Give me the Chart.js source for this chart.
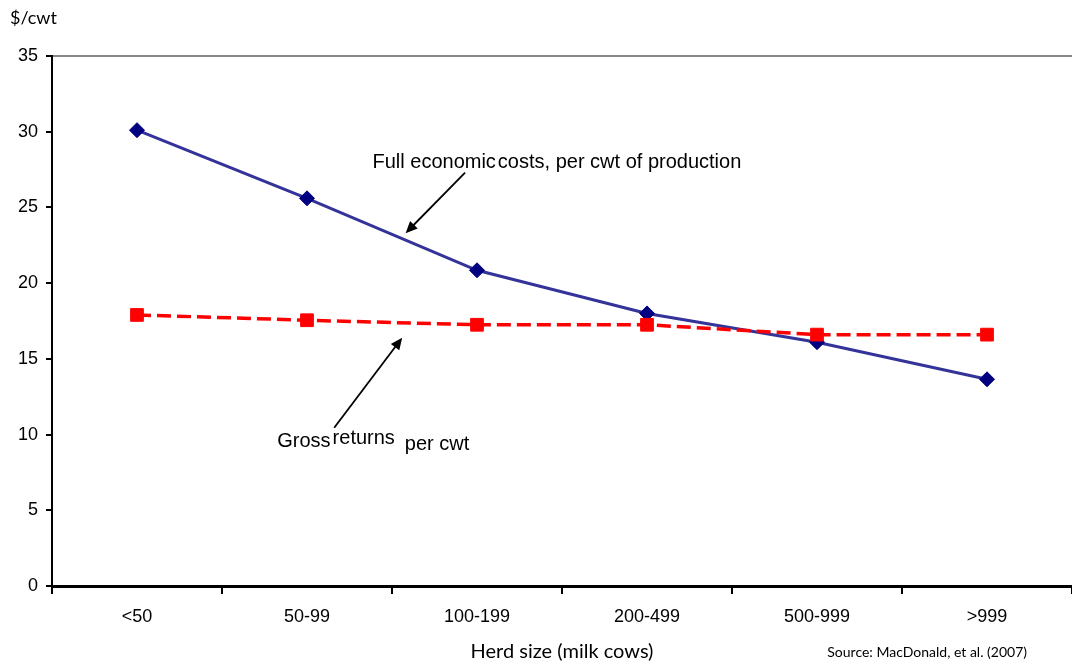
<!DOCTYPE html>
<html>
<head>
<meta charset="utf-8">
<script src="https://cdn.jsdelivr.net/npm/chart.js@4"></script>
<style>
  html, body { margin: 0; padding: 0; background: #fff; overflow: hidden; }
  #wrap { width: 1082px; height: 668px; position: relative; }
</style>
</head>
<body>
<div id="wrap"><canvas id="herdChart"></canvas></div>
<script>
// herd size classes and per-cwt values
const herdSizes = ['<50', '50-99', '100-199', '200-499', '500-999', '>999'];
const fullCosts = [30.1, 25.6, 20.85, 18.0, 16.1, 13.65];
const grossReturns = [17.9, 17.55, 17.25, 17.25, 16.6, 16.6];
const yTicks = [0, 5, 10, 15, 20, 25, 30, 35];

// annotation anchors in data units (category index, $/cwt)
const notes = [
  { parts: [['Full economic', 0, 0], ['costs, per cwt of production', 2, 0]], at: [2.47, 28.0],
    arrow: [[1.93, 27.3], [1.58, 23.3]] },
  { parts: [['Gross', 0, 0], ['returns', 2, -3], ['per cwt', 10, 3]], at: [1.39, 9.55],
    arrow: [[1.16, 10.45], [1.56, 16.4]] }
];

const sans = "'Liberation Sans', Arial, sans-serif";
const soft = "Lato, 'Open Sans', sans-serif";

const extras = {
  id: 'extras',
  afterDraw(chart) {
    const { ctx, scales: { x, y } } = chart;
    ctx.save();
    ctx.fillStyle = '#000';
    ctx.textBaseline = 'middle';

    // units label top left
    ctx.font = '18px ' + soft;
    ctx.textAlign = 'left';
    ctx.fillText('$/cwt', 10, 18);

    // source note
    ctx.font = '14px ' + soft;
    ctx.textAlign = 'right';
    ctx.fillText('Source: MacDonald, et al. (2007)', 1027, 652);

    // callouts
    ctx.font = '20px ' + sans;
    ctx.textAlign = 'left';
    notes.forEach(n => {
      const widths = n.parts.map(p => ctx.measureText(p[0]).width);
      const total = widths.reduce((a, b) => a + b, 0) + n.parts.reduce((a, p) => a + p[1], 0);
      let cx = x.getPixelForValue(n.at[0]) - total / 2;
      const cy = y.getPixelForValue(n.at[1]);
      n.parts.forEach((p, i) => {
        cx += p[1];
        ctx.fillText(p[0], cx, cy + p[2]);
        cx += widths[i];
      });

      const x0 = x.getPixelForValue(n.arrow[0][0]), y0 = y.getPixelForValue(n.arrow[0][1]);
      const x1 = x.getPixelForValue(n.arrow[1][0]), y1 = y.getPixelForValue(n.arrow[1][1]);
      const ang = Math.atan2(y1 - y0, x1 - x0);
      const head = 13;
      ctx.strokeStyle = '#000';
      ctx.lineWidth = 1.8;
      ctx.beginPath();
      ctx.moveTo(x0, y0);
      ctx.lineTo(x1 - Math.cos(ang) * head * 0.8, y1 - Math.sin(ang) * head * 0.8);
      ctx.stroke();
      ctx.beginPath();
      ctx.moveTo(x1, y1);
      ctx.lineTo(x1 - head * Math.cos(ang - 0.42), y1 - head * Math.sin(ang - 0.42));
      ctx.lineTo(x1 - head * Math.cos(ang + 0.42), y1 - head * Math.sin(ang + 0.42));
      ctx.closePath();
      ctx.fill();
    });
    ctx.restore();
  }
};

new Chart(document.getElementById('herdChart'), {
  type: 'line',
  data: {
    labels: herdSizes,
    datasets: [
      {
        label: 'Full economic costs, per cwt of production',
        data: fullCosts,
        borderColor: '#333399',
        borderWidth: 3,
        pointStyle: 'rectRot',
        pointRadius: 7.5,
        pointBackgroundColor: '#000080',
        pointBorderColor: '#000080',
        pointBorderWidth: 1,
        tension: 0,
        order: 2
      },
      {
        label: 'Gross returns per cwt',
        data: grossReturns,
        borderColor: '#ff0000',
        borderWidth: 3.5,
        borderDash: [14, 6],
        pointStyle: 'rect',
        pointRadius: 9,
        pointBackgroundColor: '#ff0000',
        pointBorderColor: '#ff0000',
        pointBorderWidth: 1,
        tension: 0,
        order: 1
      }
    ]
  },
  options: {
    responsive: true,
    maintainAspectRatio: false,
    devicePixelRatio: 1,
    animation: false,
    layout: { padding: { top: 56, right: 0, left: 0, bottom: 0 } },
    plugins: {
      legend: { display: false },
      tooltip: { enabled: false }
    },
    scales: {
      x: {
        offset: true,
        grid: {
          offset: true,
          drawOnChartArea: false,
          color: '#000',
          tickColor: '#000',
          tickLength: 8,
          lineWidth: 2
        },
        border: { color: '#000', width: 3 },
        ticks: { color: '#000', font: { family: sans, size: 18 }, padding: 12, maxRotation: 0 },
        title: {
          display: true,
          text: 'Herd size (milk cows)',
          color: '#000',
          font: { family: soft, size: 20 },
          padding: { top: 8 }
        },
        afterFit: s => { s.height = 82; }
      },
      y: {
        min: 0,
        max: 35,
        afterBuildTicks: s => { s.ticks = yTicks.map(v => ({ value: v })); },
        grid: {
          color: c => (c.tick && c.tick.value === 35 ? '#888' : 'rgba(0,0,0,0)'),
          tickColor: '#000',
          tickLength: 6,
          lineWidth: 2
        },
        border: { color: '#000', width: 2 },
        ticks: { color: '#000', font: { family: sans, size: 18 }, padding: 8 },
        afterFit: s => { s.width = 52; }
      }
    }
  },
  plugins: [extras]
});
</script>
</body>
</html>
